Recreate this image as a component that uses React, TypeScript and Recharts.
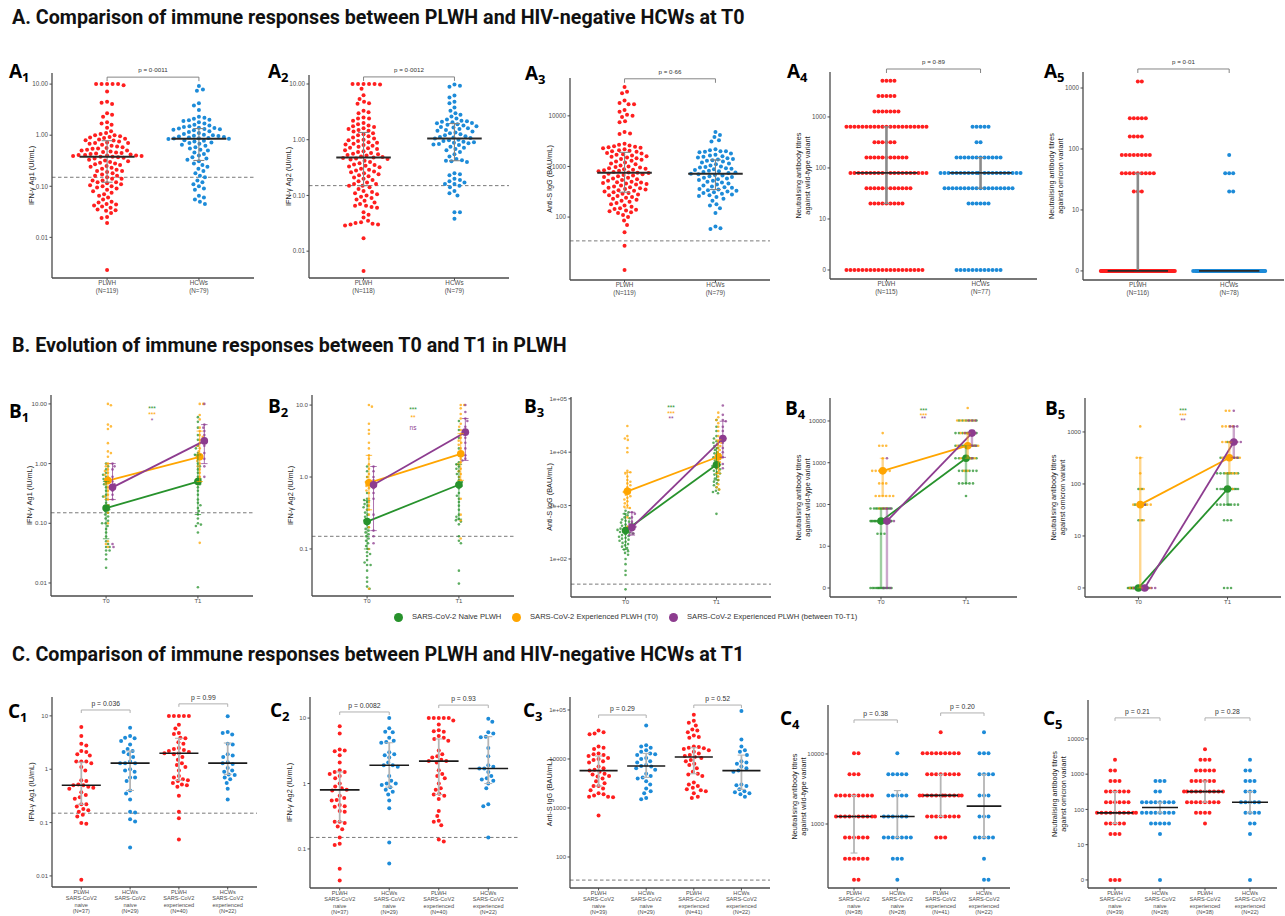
import React from "react";
import { ScatterChart, Scatter, XAxis, YAxis, ReferenceLine, ReferenceDot } from "recharts";

const RED = "#ff1f1f";
const BLUE = "#1d8bd8";
const GREEN = "#27922c";
const ORANGE = "#ffa500";
const PURPLE = "#8d3c8f";
const AXIS = "#4a4a4a";
const TXT = "#4d4d4d";

// ---------- A. T0, PLWH vs HCWs ----------
const a1Plwh = [10, 10, 10, 10, 10, 9.5, 7.2, 4.5, 4.3, 4.1, 2.7, 2.5, 2.3, 1.8, 1.7, 1.6, 1.4, 1.2, 1.1, 1.05, 1.0, 1.0, 0.95, 0.92, 0.9, 0.88, 0.85, 0.82, 0.8, 0.79,
  0.75, 0.72, 0.7, 0.7, 0.68, 0.65, 0.62, 0.6, 0.58, 0.56, 0.55, 0.54, 0.52, 0.5, 0.5, 0.48, 0.47, 0.46, 0.45, 0.44, 0.43, 0.42, 0.41, 0.41, 0.4, 0.4, 0.39, 0.39, 0.38, 0.38,
  0.37, 0.36, 0.35, 0.33, 0.32, 0.31, 0.3, 0.29, 0.28, 0.27, 0.26, 0.25, 0.24, 0.23, 0.22, 0.21, 0.2, 0.2, 0.19, 0.18, 0.17, 0.16, 0.16, 0.15, 0.14, 0.14, 0.13, 0.13, 0.12,
  0.12, 0.115, 0.11, 0.105, 0.1, 0.1, 0.095, 0.09, 0.085, 0.08, 0.075, 0.07, 0.065, 0.06, 0.055, 0.05, 0.048, 0.045, 0.044, 0.042, 0.04, 0.038, 0.035, 0.034, 0.033, 0.03, 0.025, 0.024, 0.019, 0.0023];
const a1Hcw = [9.2, 7.8, 7.4, 4.2, 3.8, 3.1, 2.3, 2.2, 2.1, 2.0, 1.95, 1.9, 1.8, 1.7, 1.6, 1.55, 1.5, 1.45, 1.4, 1.38,
  1.35, 1.32, 1.3, 1.28, 1.25, 1.2, 1.15, 1.1, 1.05, 1.02, 1.0, 0.98, 0.96, 0.94, 0.92, 0.9, 0.88, 0.87, 0.86, 0.85,
  0.84, 0.8, 0.78, 0.75, 0.72, 0.7, 0.68, 0.65, 0.62, 0.58, 0.55, 0.52, 0.5, 0.46, 0.43, 0.4, 0.37, 0.35, 0.33,
  0.31, 0.28, 0.26, 0.24, 0.22, 0.2, 0.18, 0.16, 0.15, 0.13, 0.12, 0.11, 0.1, 0.09, 0.085, 0.065, 0.06, 0.055, 0.05, 0.045];
const a1Stats = [[0.38, 0.12, 0.78], [0.85, 0.32, 1.35]];

const a2Plwh = [10, 10, 10, 10, 10, 9.8, 8.2, 6.3, 5.4, 4.8, 4.5, 4.4, 3.3, 3.1, 3.0, 2.5, 2.4, 2.4, 2.2, 2.0, 1.9, 1.8, 1.75, 1.7, 1.6, 1.55, 1.5, 1.45, 1.4,
  1.3, 1.25, 1.2, 1.15, 1.1, 1.05, 1.0, 0.98, 0.95, 0.9, 0.88, 0.85, 0.82, 0.8, 0.78, 0.75, 0.72, 0.7, 0.68, 0.65, 0.62, 0.6, 0.58, 0.56, 0.55, 0.53, 0.52, 0.5, 0.49, 0.48,
  0.47, 0.46, 0.45, 0.44, 0.42, 0.4, 0.38, 0.36, 0.35, 0.34, 0.33, 0.32, 0.3, 0.29, 0.28, 0.27, 0.26, 0.25, 0.24, 0.23, 0.22, 0.21, 0.2, 0.19, 0.18, 0.17, 0.16, 0.16, 0.15,
  0.15, 0.14, 0.13, 0.12, 0.115, 0.11, 0.105, 0.1, 0.095, 0.09, 0.085, 0.08, 0.075, 0.07, 0.065, 0.065, 0.062, 0.06, 0.05, 0.045, 0.04, 0.035, 0.033, 0.032, 0.031, 0.03, 0.03, 0.029, 0.017, 0.0044];
const a2Hcw = [9.8, 9.3, 8.9, 6.2, 5.7, 4.8, 4.5, 3.8, 3.3, 3.0, 2.8, 2.6, 2.4, 2.3, 2.2, 2.15, 2.1, 2.05, 2.0, 1.97,
  1.9, 1.85, 1.8, 1.75, 1.7, 1.65, 1.6, 1.55, 1.5, 1.45, 1.4, 1.35, 1.3, 1.25, 1.2, 1.15, 1.12, 1.1, 1.07, 1.05,
  1.0, 0.98, 0.95, 0.92, 0.9, 0.88, 0.86, 0.84, 0.82, 0.8, 0.75, 0.72, 0.68, 0.65, 0.6, 0.55, 0.5, 0.45, 0.43,
  0.42, 0.41, 0.4, 0.25, 0.24, 0.23, 0.2, 0.19, 0.18, 0.17, 0.16, 0.16, 0.15, 0.14, 0.12, 0.11, 0.1, 0.05, 0.05, 0.038];
const a2Stats = [[0.48, 0.15, 1.35], [1.05, 0.42, 1.95]];

const a3Plwh = [37000, 30000, 28000, 20000, 18000, 17000, 17000, 13000, 12000, 10500, 10000, 9500, 7800, 7500, 4800, 4500, 4400, 2800, 2700, 2600, 2500, 2450, 2400, 2350, 2300, 2200, 2100, 2050, 2000, 1950,
  1850, 1800, 1750, 1700, 1650, 1600, 1550, 1500, 1450, 1400, 1350, 1300, 1250, 1200, 1150, 1100, 1050, 1000, 980, 950, 920, 900, 880, 860, 840, 820, 800, 780, 760, 750,
  740, 720, 700, 680, 660, 640, 620, 600, 580, 560, 540, 520, 500, 490, 480, 470, 460, 450, 440, 420, 400, 390, 380, 370, 360, 350, 340, 330, 320,
  310, 300, 290, 280, 270, 260, 250, 240, 230, 220, 210, 200, 190, 180, 170, 160, 150, 145, 140, 135, 130, 125, 120, 110, 100, 85, 70, 50, 27, 9];
const a3Hcw = [4800, 4200, 3800, 3300, 3100, 2200, 2100, 2000, 2000, 1950, 1900, 1800, 1700, 1650, 1600, 1550, 1500, 1450, 1400, 1380,
  1330, 1300, 1250, 1200, 1150, 1100, 1050, 1000, 980, 950, 920, 900, 880, 850, 820, 800, 780, 760, 740, 720,
  700, 680, 660, 640, 620, 600, 580, 560, 540, 520, 500, 480, 460, 440, 420, 400, 390, 380, 360,
  350, 340, 330, 320, 310, 300, 290, 280, 270, 260, 250, 230, 210, 180, 170, 150, 120, 65, 60, 58];
const a3Stats = [[750, 310, 1900], [720, 350, 1350]];

// titre levels; a titre of 0 sits at 1 on the log axis (tick labelled "0")
const titreLevels = [0, 20, 40, 80, 160, 320, 640, 1280, 2560, 5120];
const titreLevelsWide = [0, 20, 40, 80, 160, 320, 640, 1280, 2560, 5120, 10240, 20480];
const titreLevelsHigh = [160, 320, 640, 1280, 2560, 5120, 10240, 20480];

const a4PlwhCounts = [20, 9, 12, 20, 11, 6, 21, 7, 5, 4];
const a4HcwCounts = [12, 6, 18, 22, 12, 2, 5, 0, 0, 0];
const a4Stats = [[80, 20, 640], [80, 40, 160]];
const a5PlwhCounts = [85, 3, 9, 8, 4, 5, 0, 2, 0, 0];
const a5HcwCounts = [72, 2, 3, 1, 0, 0, 0, 0, 0, 0];
const a5Stats = [[1, 1, 40], [1, 1, 1]];

// ---------- B. T0 -> T1 in PLWH (naive / experienced T0 / experienced between) ----------
const b1T0Naive = [1.0, 0.9, 0.8, 0.7, 0.65, 0.6, 0.55, 0.5, 0.45, 0.4, 0.35, 0.3, 0.28, 0.25, 0.22, 0.2, 0.18, 0.17, 0.16, 0.15, 0.14, 0.13, 0.12, 0.11, 0.1, 0.1, 0.09, 0.08, 0.07, 0.06, 0.05, 0.045, 0.04, 0.04, 0.035, 0.035, 0.03, 0.025, 0.018];
const b1T0Exp = [10, 9.5, 4.5, 4.2, 3.8, 2.2, 1.6, 1.5, 1.3, 1.0, 0.9, 0.8, 0.75, 0.7, 0.65, 0.6, 0.55, 0.5, 0.45, 0.4, 0.35, 0.3, 0.28, 0.25, 0.2, 0.15, 0.1, 0.05, 0.045, 0.04];
const b1T0Between = [1.0, 0.9, 0.8, 0.6, 0.5, 0.45, 0.4, 0.35, 0.3, 0.25, 0.045, 0.04];
const b1T1Naive = [6, 5, 4, 3, 2.5, 2, 1.8, 1.5, 1.4, 1.2, 1.0, 0.9, 0.8, 0.7, 0.6, 0.55, 0.5, 0.45, 0.4, 0.35, 0.3, 0.25, 0.22, 0.2, 0.18, 0.16, 0.14, 0.12, 0.1, 0.095, 0.09, 0.07, 0.0085];
const b1T1Exp = [10, 10, 6.5, 5.5, 4, 3.5, 3, 2.8, 2.5, 2.2, 2, 1.8, 1.6, 1.4, 1.3, 1.2, 1.1, 1.0, 0.9, 0.8, 0.7, 0.6, 0.55, 0.5, 0.45, 0.047];
const b1T1Between = [10, 4.5, 4, 3.5, 3, 2.6, 2.4, 2, 1.5, 1.2, 0.9, 0.6];
// [T0, T1] centre, lower, upper for naive / exp / between
const b1Mid = [[0.18, 0.5], [0.52, 1.3], [0.4, 2.4]];
const b1Lo = [[0.055, 0.14], [0.25, 0.5], [0.25, 1.0]];
const b1Hi = [[0.5, 1.4], [1.0, 3.5], [1.0, 4.5]];

const b2T0Naive = [1.4, 1.2, 1.0, 0.8, 0.6, 0.5, 0.48, 0.45, 0.42, 0.4, 0.38, 0.35, 0.32, 0.3, 0.28, 0.26, 0.25, 0.24, 0.22, 0.2, 0.19, 0.18, 0.17, 0.16, 0.15, 0.14, 0.13, 0.12, 0.11, 0.1, 0.09, 0.085, 0.08, 0.07, 0.065, 0.06, 0.06, 0.05, 0.04, 0.035, 0.03, 0.028];
const b2T0Exp = [10, 9.5, 5.5, 4.5, 4, 3, 2.5, 2, 1.8, 1.5, 1.3, 1.1, 1.0, 0.9, 0.85, 0.8, 0.75, 0.7, 0.65, 0.6, 0.5, 0.45, 0.4, 0.35, 0.3, 0.25, 0.2, 0.1, 0.028];
const b2T0Between = [1.4, 1.2, 1.0, 0.9, 0.8, 0.7, 0.6, 0.5, 0.3, 0.18, 0.15, 0.12];
const b2T1Naive = [6, 4.5, 3.5, 2.5, 2, 1.6, 1.5, 1.4, 1.3, 1.2, 1.1, 1.0, 0.9, 0.85, 0.8, 0.75, 0.7, 0.6, 0.55, 0.5, 0.45, 0.4, 0.35, 0.3, 0.28, 0.26, 0.25, 0.24, 0.22, 0.15, 0.13, 0.12, 0.05, 0.033];
const b2T1Exp = [10, 10, 9, 7.5, 6.5, 5.5, 5, 4.5, 4, 3.5, 3.2, 3, 2.8, 2.5, 2.2, 2, 1.8, 1.6, 1.5, 1.3, 1.2, 1.1, 1.0, 0.9, 0.8, 0.5, 0.3, 0.25, 0.14];
const b2T1Between = [10, 8, 6.5, 6, 5, 4.5, 4.2, 3.5, 3, 2.5, 2, 1.8, 1.7];
const b2Mid = [[0.24, 0.78], [0.83, 2.1], [0.78, 4.2]];
const b2Lo = [[0.1, 0.26], [0.35, 0.9], [0.18, 1.7]];
const b2Hi = [[0.47, 1.5], [2.0, 4.0], [1.4, 6.5]];

const b3T0Naive = [800, 750, 700, 650, 600, 580, 550, 520, 500, 480, 460, 440, 420, 400, 380, 370, 360, 350, 340, 330, 320, 310, 300, 290, 280, 270, 260, 250, 240, 230, 220, 210, 200, 190, 180, 170, 160, 150, 140, 130, 120, 100, 80, 60, 50, 27];
const b3T0Exp = [31000, 20000, 18000, 17000, 12000, 10000, 4500, 4200, 4000, 3500, 3000, 2800, 2600, 2400, 2200, 2000, 1900, 1800, 1700, 1600, 1500, 1400, 1300, 1200, 1100, 1000, 950, 900, 600, 400];
const b3T0Between = [750, 700, 600, 500, 450, 420, 400, 380, 350, 320, 300, 280];
const b3T1Naive = [40000, 30000, 25000, 20000, 18000, 16000, 15000, 14000, 13000, 12000, 11000, 10000, 9500, 9000, 8500, 8000, 7500, 7000, 6500, 6000, 5800, 5500, 5000, 4800, 4500, 4200, 4000, 3800, 3500, 3200, 3000, 2800, 2600, 2400, 2200, 2000, 1900, 1800, 1700, 700];
const b3T1Exp = [55000, 45000, 40000, 35000, 30000, 25000, 20000, 18000, 16000, 15000, 14000, 13000, 12000, 11000, 10000, 9000, 8200, 7500, 7000, 6500, 6000, 5500, 5000, 4500, 4000, 3500, 3000, 2500, 2200, 2000];
const b3T1Between = [75000, 50000, 40000, 38000, 30000, 25000, 20000, 18000, 15000, 12000, 10000, 8000, 6000, 5000];
const b3Mid = [[340, 5800], [1850, 8200], [390, 18000]];
const b3Lo = [[150, 3000], [900, 4000], [280, 8000]];
const b3Hi = [[700, 12000], [4200, 17000], [750, 38000]];

const b4T0NaiveCounts = [15, 3, 20, 12, 0, 0, 0, 0, 0, 0, 0, 0];
const b4T0ExpCounts = [0, 0, 2, 3, 6, 3, 6, 1, 3, 1, 0, 0];
const b4T0BetweenCounts = [3, 0, 4, 3, 0, 0, 0, 1, 0, 0, 0, 0];
const b4T1NaiveCounts = [0, 0, 0, 0, 1, 5, 6, 10, 12, 8, 6, 0];
const b4T1ExpCounts = [0, 0, 0, 0, 0, 0, 2, 5, 8, 5, 6, 1];
const b4T1BetweenCounts = [0, 0, 0, 0, 0, 0, 0, 1, 3, 4, 3, 0];
const b4Mid = [[40, 1280], [640, 2560], [40, 5120]];
const b4Lo = [[1, 320], [160, 1280], [1, 2560]];
const b4Hi = [[80, 2560], [1280, 5120], [80, 6000]];

const b5T0NaiveCounts = [40, 2, 4, 2, 0, 0, 0, 0, 0, 0];
const b5T0ExpCounts = [10, 2, 6, 2, 1, 2, 0, 1, 0, 0];
const b5T0BetweenCounts = [8, 0, 1, 0, 0, 0, 0, 0, 0, 0];
const b5T1NaiveCounts = [3, 3, 8, 12, 8, 6, 2, 0, 0, 0];
const b5T1ExpCounts = [0, 0, 0, 2, 4, 6, 5, 4, 2, 1];
const b5T1BetweenCounts = [0, 0, 0, 0, 0, 2, 4, 3, 1, 0];
const b5Mid = [[1, 80], [40, 320], [1, 640]];
const b5Lo = [[1, 40], [1, 160], [1, 320]];
const b5Hi = [[1, 160], [320, 640], [1, 1280]];

// ---------- C. T1, PLWH vs HCWs by SARS-CoV-2 status ----------
const c1PlwhNaive = [6.2, 4.2, 3.0, 2.8, 2.2, 2.1, 1.9, 1.8, 1.4, 1.4, 1.4, 1.3, 1.1, 0.95, 0.62, 0.6, 0.52, 0.5, 0.5, 0.47, 0.45, 0.43, 0.37, 0.33, 0.3, 0.28, 0.22, 0.22, 0.2, 0.18, 0.17, 0.16, 0.14, 0.13, 0.098, 0.095, 0.0085];
const c1HcwNaive = [6.0, 4.2, 3.9, 3.8, 3.4, 2.9, 2.4, 2.2, 2.1, 1.9, 1.7, 1.4, 1.3, 1.3, 1.3, 1.0, 0.95, 0.9, 0.7, 0.7, 0.6, 0.4, 0.35, 0.27, 0.16, 0.155, 0.115, 0.105, 0.034];
const c1PlwhExp = [10, 10, 10, 10, 10, 6.8, 5.8, 4.8, 4.6, 3.9, 3.8, 3.2, 3.0, 2.5, 2.4, 2.3, 2.2, 2.1, 2.0, 2.0, 1.9, 1.7, 1.5, 1.3, 1.2, 1.1, 0.95, 0.75, 0.7, 0.65, 0.62, 0.6, 0.55, 0.52, 0.5, 0.47, 0.32, 0.16, 0.12, 0.048];
const c1HcwExp = [9.8, 5.0, 4.8, 4.5, 3.0, 2.9, 1.9, 1.8, 1.7, 1.35, 1.3, 1.25, 1.05, 0.95, 0.9, 0.8, 0.78, 0.7, 0.65, 0.55, 0.43, 0.27];
const c1Stats = [[0.5, 0.22, 1.35], [1.3, 0.4, 2.2], [2.0, 0.62, 3.8], [1.3, 0.8, 3.1]];

const c2PlwhNaive = [7.5, 5.8, 3.3, 3.2, 3.1, 2.7, 2.1, 1.6, 1.5, 1.5, 1.4, 1.3, 1.2, 1.0, 0.9, 0.85, 0.8, 0.78, 0.65, 0.6, 0.56, 0.55, 0.47, 0.45, 0.44, 0.38, 0.37, 0.26, 0.26, 0.25, 0.22, 0.2, 0.15, 0.12, 0.115, 0.05, 0.033];
const c2HcwNaive = [10, 7.0, 6.2, 6.1, 5.0, 4.5, 4.3, 4.2, 3.0, 2.8, 2.7, 2.5, 2.1, 1.9, 1.9, 1.8, 1.3, 1.1, 1.0, 1.0, 0.95, 0.88, 0.8, 0.75, 0.68, 0.55, 0.42, 0.125, 0.06];
const c2PlwhExp = [10, 10, 10, 10, 10, 9.2, 8.0, 6.5, 6.3, 6.2, 5.3, 5.0, 4.8, 4.5, 3.2, 2.8, 2.6, 2.5, 2.3, 2.2, 2.2, 2.1, 1.6, 1.4, 1.3, 1.2, 1.0, 0.85, 0.8, 0.7, 0.68, 0.65, 0.58, 0.38, 0.32, 0.27, 0.26, 0.23, 0.14, 0.13];
const c2HcwExp = [9.8, 8.8, 6.1, 5.8, 5.2, 5.1, 3.5, 2.6, 1.9, 1.8, 1.7, 1.7, 1.5, 1.3, 1.2, 1.15, 1.1, 1.0, 0.85, 0.48, 0.45, 0.15];
const c2Stats = [[0.8, 0.26, 1.5], [1.9, 0.88, 4.2], [2.2, 0.68, 4.8], [1.7, 1.0, 5.2]];

const c3PlwhNaive = [38000, 35000, 33000, 32000, 18000, 17000, 16000, 13000, 12500, 12000, 11500, 10500, 10000, 9500, 9000, 8500, 7000, 6500, 6000, 5800, 5500, 5000, 4800, 4500, 4400, 4000, 3500, 3200, 2800, 2800, 2500, 2300, 2000, 1900, 1800, 1700, 1700, 1650, 700];
const c3HcwNaive = [48000, 19000, 18000, 17000, 15000, 14000, 13000, 12500, 12000, 10500, 10000, 9000, 8500, 7500, 7200, 7000, 6500, 6000, 5000, 4500, 4200, 4000, 3500, 3000, 2500, 2200, 2000, 1600, 1500];
const c3PlwhExp = [80000, 60000, 55000, 48000, 40000, 38000, 35000, 30000, 28000, 27000, 18000, 17500, 17000, 16500, 16000, 15000, 14000, 13000, 12000, 11500, 11000, 10500, 9500, 9000, 8000, 7500, 6500, 5500, 5000, 4800, 4500, 3300, 3000, 2800, 2600, 2400, 2300, 2200, 2000, 1700, 1600];
const c3HcwExp = [95000, 25000, 18000, 15000, 14000, 12000, 9000, 8500, 8000, 7000, 6500, 5800, 5500, 3000, 2900, 2800, 2400, 2200, 2100, 2000, 1900, 1700];
const c3Stats = [[5800, 2800, 11500], [7200, 4200, 13000], [11000, 5000, 17000], [5800, 2400, 12000]];

const c4PlwhNaiveCounts = [2, 6, 6, 10, 9, 3, 2, 0];
const c4HcwNaiveCounts = [1, 3, 7, 6, 5, 5, 1, 0];
const c4PlwhExpCounts = [0, 0, 3, 8, 12, 8, 9, 1];
const c4HcwExpCounts = [2, 1, 5, 3, 3, 4, 3, 1];
const c4Stats = [[1280, 385, 2560], [1280, 640, 3000], [2560, 1280, 5120], [1800, 640, 5120]];

const c5PlwhNaiveCounts = [3, 3, 5, 10, 6, 6, 3, 2, 1, 0];
const c5HcwNaiveCounts = [1, 1, 5, 8, 8, 2, 3, 0, 0, 0];
const c5PlwhExpCounts = [0, 0, 1, 4, 8, 10, 6, 5, 3, 1];
const c5HcwExpCounts = [1, 1, 2, 4, 5, 3, 3, 2, 1, 0];
const c5Stats = [[80, 40, 320], [113, 80, 160], [320, 160, 640], [160, 80, 320]];

const fromCounts = (levels: number[], counts: number[]) =>
  levels.flatMap((v, i) => Array.from({ length: counts[i] || 0 }, () => (v === 0 ? 1 : v)));

const cLabels = (n: number[]) => [
  ["PLWH", "SARS-CoV2", "naive", `(N=${n[0]})`],
  ["HCWs", "SARS-CoV2", "naive", `(N=${n[1]})`],
  ["PLWH", "SARS-CoV2", "experienced", `(N=${n[2]})`],
  ["HCWs", "SARS-CoV2", "experienced", `(N=${n[3]})`],
];
const aLabels = (n1: number, n2: number) => [["PLWH", `(N=${n1})`], ["HCWs", `(N=${n2})`]];

// beeswarm: offsets (px) from the data's pixel heights
function swarm(ys: number[], d: number, maxW: number): number[] {
  const order = ys.map((_, i) => i).sort((a, b) => ys[a] - ys[b]);
  const px: number[] = [];
  const py: number[] = [];
  const out = ys.map(() => 0);
  order.forEach((i, n) => {
    const y = ys[i];
    const sign = n % 2 === 0 ? 1 : -1;
    let best = 0;
    let bestGap = -1;
    for (let k = 0; k <= maxW * 4; k++) {
      const off = sign * (k % 2 === 0 ? 1 : -1) * Math.ceil(k / 2) * 0.5;
      let gap = Infinity;
      for (let j = px.length - 1; j >= 0; j--) {
        const dy = y - py[j];
        if (dy >= d) break;
        const dist = Math.hypot(off - px[j], dy);
        if (dist < gap) gap = dist;
      }
      if (gap >= d) { best = off; bestGap = gap; break; }
      if (gap > bestGap + 0.01) { bestGap = gap; best = off; }
    }
    px.push(best);
    py.push(y);
    out[i] = best;
  });
  return out;
}

type Grp = { x: number; vals: number[]; color: string; r: number; op?: number };
type Trend = { color: string; dx: number; mid: number[]; lo: number[]; hi: number[] };
type Cfg = {
  L: number; T: number; W: number; H: number; n: number;
  xLab: string[][]; xFont: number; xStep: number;
  dom: [number, number]; ticks: number[]; tickLab: string[]; tickFont: number;
  title: string[]; titleOff: number; titleFont: number;
  thr?: number;
  groups: Grp[]; d: number; maxW: number;
  stats?: number[][]; statKind?: "A" | "A2" | "C";
  brackets?: { a: number; b: number; y: number; text: string }[]; brKind?: "A" | "C";
  trends?: Trend[]; thickErr?: boolean;
  stars?: { text: string; y: number; color: string }[];
};

const STAT = {
  A: { half: 0.3, cap: 0.06, med: "#2a2a2a", medW: 2, err: "#858585", errW: 1.1 },
  A2: { half: 0.33, cap: 0.04, med: "#2a2a2a", medW: 1.8, err: "#8a8a8a", errW: 2.6 },
  C: { half: 0.4, cap: 0.08, med: "#1a1a1a", medW: 1.6, err: "#b5b5b5", errW: 1.8 },
};
const BR = {
  A: { col: "#777", w: 0.9, tick: 4, up: 7, size: 6.2, txt: "#333" },
  C: { col: "#b0b0b0", w: 1, tick: 3, up: 6, size: 6.8, txt: "#333" },
};

const MT = 30, ML = 80, MB = 40, MR = 6;

function Panel({ c }: { c: Cfg }) {
  const xMax = c.n + 0.6;
  const ppu = c.W / (xMax - 0.4);
  const lg0 = Math.log10(c.dom[0]);
  const lg1 = Math.log10(c.dom[1]);
  const ppd = c.H / (lg1 - lg0);
  const pxY = (v: number) => (lg1 - Math.log10(v)) * ppd;
  const up = (v: number, px: number) => v * Math.pow(10, px / ppd);
  const xs = Array.from({ length: c.n }, (_, i) => i + 1);

  const series = c.groups.map((g) => {
    const off = swarm(g.vals.map(pxY), c.d, c.maxW);
    return { g, data: g.vals.map((v, i) => ({ x: g.x + off[i] / ppu, y: v })) };
  });

  type Seg = { a: number[]; b: number[]; col: string; w: number; op?: number };
  const segs: Seg[] = [];
  const notes: { x: number; y: number; text: string; col: string; size: number }[] = [];

  if (c.stats && c.statKind) {
    const st = STAT[c.statKind];
    c.stats.forEach(([m, lo, hi], i) => {
      const x = i + 1;
      if (hi > lo) {
        segs.push({ a: [x, lo], b: [x, hi], col: st.err, w: st.errW });
        segs.push({ a: [x - st.cap, lo], b: [x + st.cap, lo], col: st.err, w: 1.1 });
        segs.push({ a: [x - st.cap, hi], b: [x + st.cap, hi], col: st.err, w: 1.1 });
      }
      segs.push({ a: [x - st.half, m], b: [x + st.half, m], col: st.med, w: st.medW });
    });
  }
  if (c.trends) {
    c.trends.forEach((t) => {
      [0, 1].forEach((k) => {
        const x = k + 1 + t.dx;
        if (t.hi[k] > t.lo[k]) {
          const w = c.thickErr ? 2.4 : 0.9;
          const op = c.thickErr ? 0.45 : 0.8;
          segs.push({ a: [x, t.lo[k]], b: [x, t.hi[k]], col: t.color, w, op });
          segs.push({ a: [x - 0.035, t.lo[k]], b: [x + 0.035, t.lo[k]], col: t.color, w: 0.9, op });
          segs.push({ a: [x - 0.035, t.hi[k]], b: [x + 0.035, t.hi[k]], col: t.color, w: 0.9, op });
        }
      });
    });
  }
  if (c.brackets && c.brKind) {
    const bk = BR[c.brKind];
    c.brackets.forEach((br) => {
      const y2 = up(br.y, -bk.tick);
      segs.push({ a: [br.a, br.y], b: [br.b, br.y], col: bk.col, w: bk.w });
      segs.push({ a: [br.a, br.y], b: [br.a, y2], col: bk.col, w: bk.w });
      segs.push({ a: [br.b, br.y], b: [br.b, y2], col: bk.col, w: bk.w });
      notes.push({ x: (br.a + br.b) / 2, y: up(br.y, bk.up), text: br.text, col: bk.txt, size: bk.size });
    });
  }
  (c.stars || []).forEach((s) => notes.push({ x: 1.5, y: s.y, text: s.text, col: s.color, size: 6.5 }));

  const XTick = (p: any) => {
    const lines = c.xLab[Math.round(p.payload.value) - 1] || [];
    return (
      <text x={p.x} y={p.y} textAnchor="middle" fontSize={c.xFont} fill={TXT}>
        {lines.map((t, i) => (
          <tspan key={i} x={p.x} dy={i === 0 ? "0.75em" : c.xStep}>{t}</tspan>
        ))}
      </text>
    );
  };
  const YTitle = () => {
    const cx = ML - c.titleOff;
    const cy = MT + c.H / 2;
    const lh = c.titleFont * 1.15;
    const k = c.title.length;
    return (
      <text transform={`rotate(-90 ${cx} ${cy})`} textAnchor="middle" fontSize={c.titleFont} fill="#222">
        {c.title.map((t, i) => (
          <tspan key={i} x={cx} y={cy + (i - (k - 1) / 2) * lh} dy="0.35em">{t}</tspan>
        ))}
      </text>
    );
  };

  return (
    <div style={{ position: "absolute", left: c.L - ML, top: c.T - MT }}>
      <ScatterChart width={ML + c.W + MR} height={MT + c.H + MB} margin={{ top: MT, right: MR, bottom: 0, left: 0 }}>
        <XAxis type="number" dataKey="x" domain={[0.4, xMax]} ticks={xs} allowDataOverflow height={MB}
          tick={XTick} tickSize={2.5} tickMargin={0} axisLine={{ stroke: AXIS, strokeWidth: 1.3 }} tickLine={{ stroke: AXIS }} />
        <YAxis type="number" dataKey="y" scale="log" domain={c.dom} allowDataOverflow ticks={c.ticks} width={ML}
          tickFormatter={(v: number) => c.tickLab[c.ticks.indexOf(v)] ?? ""}
          tick={{ fontSize: c.tickFont, fill: TXT }} tickSize={2.5} tickMargin={1.5}
          axisLine={{ stroke: AXIS, strokeWidth: 1.3 }} tickLine={{ stroke: AXIS }} label={YTitle} />
        {c.thr !== undefined && (
          <ReferenceLine y={c.thr} stroke="#7a7a7a" strokeWidth={1} strokeDasharray="3.5 2.5" ifOverflow="visible" />
        )}
        {series.map((s, i) => (
          <Scatter key={i} data={s.data} isAnimationActive={false}
            shape={(p: any) => <circle cx={p.cx} cy={p.cy} r={s.g.r} fill={s.g.color} fillOpacity={s.g.op ?? 1} />} />
        ))}
        {segs.map((s, i) => (
          <ReferenceLine key={"s" + i} segment={[{ x: s.a[0], y: s.a[1] }, { x: s.b[0], y: s.b[1] }]}
            stroke={s.col} strokeWidth={s.w} strokeOpacity={s.op ?? 1} ifOverflow="visible" zIndex={700} />
        ))}
        {(c.trends || []).map((t, i) => (
          <Scatter key={"t" + i} data={[{ x: 1 + t.dx, y: t.mid[0] }, { x: 2 + t.dx, y: t.mid[1] }]}
            isAnimationActive={false} line={{ stroke: t.color, strokeWidth: 1.8 }}
            shape={(p: any) => <circle cx={p.cx} cy={p.cy} r={3.8} fill={t.color} />} />
        ))}
        {notes.map((n, i) => (
          <ReferenceDot key={"n" + i} x={n.x} y={n.y} r={0} fill="none" stroke="none" ifOverflow="visible"
            label={{ value: n.text, position: "center", fill: n.col, fontSize: n.size }} />
        ))}
      </ScatterChart>
    </div>
  );
}

const aBase = { n: 2, xFont: 6.3, xStep: 7.5, tickFont: 6.3, titleFont: 7.3, d: 5.2, maxW: 42, statKind: "A" as const, brKind: "A" as const };
const bBase = { n: 2, xLab: [["T0"], ["T1"]], xFont: 6, xStep: 7, tickFont: 6.2, titleFont: 7.3, d: 3.2, maxW: 11 };
const cBase = { n: 4, xFont: 5.6, xStep: 6.5, tickFont: 6, titleFont: 7.3, d: 5, maxW: 21, statKind: "C" as const, brKind: "C" as const };
const logTicks4 = [0.01, 0.1, 1, 10];
const neutWT = ["Neutralising antibody titres", "against wild-type variant"];
const neutOm = ["Neutralising antibody titres", "against omicron variant"];

const bGroups = (t0: number[][], t1: number[][]) => {
  const cols = [GREEN, ORANGE, PURPLE];
  const dx = [0, 0.02, 0.07];
  return [0, 1, 2].flatMap((k) => [
    { x: 1 + dx[k], vals: t0[k], color: cols[k], r: 1.3, op: 0.75 },
    { x: 2 + dx[k], vals: t1[k], color: cols[k], r: 1.3, op: 0.75 },
  ]);
};
const bTrends = (mid: number[][], lo: number[][], hi: number[][]): Trend[] => {
  const cols = [GREEN, ORANGE, PURPLE];
  const dx = [0, 0.02, 0.07];
  return [0, 1, 2].map((k) => ({ color: cols[k], dx: dx[k], mid: mid[k], lo: lo[k], hi: hi[k] }));
};

const panels: Cfg[] = [
  { ...aBase, L: 52, T: 73, W: 202, H: 205, dom: [0.0016, 16.5], ticks: logTicks4, tickLab: ["0.01", "0.10", "1.00", "10.00"],
    title: ["IFN-γ Ag1  (UI/mL)"], titleOff: 21, xLab: aLabels(119, 79), thr: 0.15,
    groups: [{ x: 1, vals: a1Plwh, color: RED, r: 2 }, { x: 2, vals: a1Hcw, color: BLUE, r: 2 }],
    stats: a1Stats, brackets: [{ a: 1, b: 2, y: 13.7, text: "p = 0·0011" }] },
  { ...aBase, L: 309, T: 75, W: 200, H: 203, dom: [0.0033, 14.5], ticks: logTicks4, tickLab: ["0.01", "0.10", "1.00", "10.00"],
    title: ["IFN-γ Ag2 (UI/mL)"], titleOff: 21, xLab: aLabels(118, 79), thr: 0.15,
    groups: [{ x: 1, vals: a2Plwh, color: RED, r: 2 }, { x: 2, vals: a2Hcw, color: BLUE, r: 2 }],
    stats: a2Stats, brackets: [{ a: 1, b: 2, y: 13.4, text: "p = 0·0012" }] },
  { ...aBase, L: 570, T: 78, W: 200, H: 202, dom: [5.7, 56000], ticks: [100, 1000, 10000], tickLab: ["100", "1000", "10000"],
    title: ["Anti-S IgG (BAU/mL)"], titleOff: 21, xLab: aLabels(119, 79), thr: 33.8,
    groups: [{ x: 1, vals: a3Plwh, color: RED, r: 2 }, { x: 2, vals: a3Hcw, color: BLUE, r: 2 }],
    stats: a3Stats, brackets: [{ a: 1, b: 2, y: 54000, text: "p = 0·66" }] },
  { ...aBase, L: 830, T: 72, W: 207, H: 207, dom: [0.666, 7600], ticks: [1, 10, 100, 1000], tickLab: ["0", "10", "100", "1000"],
    title: neutWT, titleOff: 27, xLab: aLabels(115, 77), statKind: "A2", d: 4, maxW: 40,
    groups: [{ x: 1, vals: fromCounts(titreLevels, a4PlwhCounts), color: RED, r: 2 }, { x: 2, vals: fromCounts(titreLevels, a4HcwCounts), color: BLUE, r: 2 }],
    stats: a4Stats, brackets: [{ a: 1, b: 2, y: 8700, text: "p = 0·89" }] },
  { ...aBase, L: 1083, T: 72, W: 201, H: 208, dom: [0.71, 1830], ticks: [1, 10, 100, 1000], tickLab: ["0", "10", "100", "1000"],
    title: neutOm, titleOff: 27, xLab: aLabels(116, 78), statKind: "A2", d: 4, maxW: 37,
    groups: [{ x: 1, vals: fromCounts(titreLevels, a5PlwhCounts), color: RED, r: 2 }, { x: 2, vals: fromCounts(titreLevels, a5HcwCounts), color: BLUE, r: 2 }],
    stats: a5Stats, brackets: [{ a: 1, b: 2, y: 2050, text: "p = 0·01" }] },

  { ...bBase, L: 51, T: 395, W: 202, H: 201, dom: [0.00605, 14.1], ticks: logTicks4, tickLab: ["0.01", "0.10", "1.00", "10.00"],
    title: ["IFN-γ Ag1 (IU/mL)"], titleOff: 22, thr: 0.15,
    groups: bGroups([b1T0Naive, b1T0Exp, b1T0Between], [b1T1Naive, b1T1Exp, b1T1Between]), trends: bTrends(b1Mid, b1Lo, b1Hi),
    stars: [{ text: "***", y: 8.2, color: GREEN }, { text: "***", y: 6.5, color: ORANGE }, { text: "*", y: 5.2, color: PURPLE }] },
  { ...bBase, L: 312, T: 395, W: 202, H: 201, dom: [0.0222, 13.8], ticks: [0.1, 1, 10], tickLab: ["0.1", "1.0", "10.0"],
    title: ["IFN-γ Ag2 (IU/mL)"], titleOff: 22, thr: 0.15,
    groups: bGroups([b2T0Naive, b2T0Exp, b2T0Between], [b2T1Naive, b2T1Exp, b2T1Between]), trends: bTrends(b2Mid, b2Lo, b2Hi),
    stars: [{ text: "***", y: 8.5, color: GREEN }, { text: "**", y: 6.6, color: ORANGE }, { text: "ns", y: 4.9, color: PURPLE }] },
  { ...bBase, L: 571, T: 397, W: 200, H: 200, dom: [19.4, 108000], ticks: [100, 1000, 10000, 100000], tickLab: ["1e+02", "1e+03", "1e+04", "1e+05"],
    title: ["Anti-S IgG (BAU/mL)"], titleOff: 22, thr: 33.8,
    groups: bGroups([b3T0Naive, b3T0Exp, b3T0Between], [b3T1Naive, b3T1Exp, b3T1Between]), trends: bTrends(b3Mid, b3Lo, b3Hi),
    stars: [{ text: "***", y: 68000, color: GREEN }, { text: "***", y: 52000, color: ORANGE }, { text: "**", y: 42000, color: PURPLE }] },
  { ...bBase, L: 830, T: 398, W: 187, H: 199, dom: [0.609, 35500], ticks: [1, 10, 100, 1000, 10000], tickLab: ["0", "10", "100", "1000", "10000"],
    title: neutWT, titleOff: 27, thickErr: true,
    groups: bGroups(
      [fromCounts(titreLevelsWide, b4T0NaiveCounts), fromCounts(titreLevelsWide, b4T0ExpCounts), fromCounts(titreLevelsWide, b4T0BetweenCounts)],
      [fromCounts(titreLevelsWide, b4T1NaiveCounts), fromCounts(titreLevelsWide, b4T1ExpCounts), fromCounts(titreLevelsWide, b4T1BetweenCounts)]),
    trends: bTrends(b4Mid, b4Lo, b4Hi),
    stars: [{ text: "***", y: 17300, color: GREEN }, { text: "***", y: 13600, color: ORANGE }, { text: "**", y: 11200, color: PURPLE }] },
  { ...bBase, L: 1085, T: 398, W: 196, H: 199, dom: [0.67, 4500], ticks: [1, 10, 100, 1000], tickLab: ["0", "10", "100", "1000"],
    title: neutOm, titleOff: 27, thickErr: true,
    groups: bGroups(
      [fromCounts(titreLevels, b5T0NaiveCounts), fromCounts(titreLevels, b5T0ExpCounts), fromCounts(titreLevels, b5T0BetweenCounts)],
      [fromCounts(titreLevels, b5T1NaiveCounts), fromCounts(titreLevels, b5T1ExpCounts), fromCounts(titreLevels, b5T1BetweenCounts)]),
    trends: bTrends(b5Mid, b5Lo, b5Hi),
    stars: [{ text: "***", y: 2540, color: GREEN }, { text: "***", y: 2030, color: ORANGE }, { text: "**", y: 1630, color: PURPLE }] },

  { ...cBase, L: 52, T: 697, W: 205, H: 190, dom: [0.0062, 22.6], ticks: logTicks4, tickLab: ["0.01", "0.1", "1", "10"],
    title: ["IFN-γ Ag1 (IU/mL)"], titleOff: 21, xLab: cLabels([37, 29, 40, 22]), thr: 0.15,
    groups: [{ x: 1, vals: c1PlwhNaive, color: RED, r: 2 }, { x: 2, vals: c1HcwNaive, color: BLUE, r: 2 }, { x: 3, vals: c1PlwhExp, color: RED, r: 2 }, { x: 4, vals: c1HcwExp, color: BLUE, r: 2 }],
    stats: c1Stats, brackets: [{ a: 1, b: 2, y: 12.9, text: "p = 0.036" }, { a: 3, b: 4, y: 16.8, text: "p = 0.99" }] },
  { ...cBase, L: 310, T: 697, W: 208, H: 191, dom: [0.0253, 21], ticks: [0.1, 1, 10], tickLab: ["0.1", "1", "10"],
    title: ["IFN-γ Ag2 (IU/mL)"], titleOff: 21, xLab: cLabels([37, 29, 40, 22]), thr: 0.15,
    groups: [{ x: 1, vals: c2PlwhNaive, color: RED, r: 2 }, { x: 2, vals: c2HcwNaive, color: BLUE, r: 2 }, { x: 3, vals: c2PlwhExp, color: RED, r: 2 }, { x: 4, vals: c2HcwExp, color: BLUE, r: 2 }],
    stats: c2Stats, brackets: [{ a: 1, b: 2, y: 12.4, text: "p = 0.0082" }, { a: 3, b: 4, y: 15.8, text: "p = 0.93" }] },
  { ...cBase, L: 570, T: 697, W: 200, H: 191, dom: [23.3, 184000], ticks: [100, 1000, 10000, 100000], tickLab: ["100", "1000", "10000", "1e+05"],
    title: ["Anti-S IgG (BAU/mL)"], titleOff: 21, xLab: cLabels([39, 29, 41, 22]), thr: 33.8,
    groups: [{ x: 1, vals: c3PlwhNaive, color: RED, r: 2 }, { x: 2, vals: c3HcwNaive, color: BLUE, r: 2 }, { x: 3, vals: c3PlwhExp, color: RED, r: 2 }, { x: 4, vals: c3HcwExp, color: BLUE, r: 2 }],
    stats: c3Stats, brackets: [{ a: 1, b: 2, y: 79000, text: "p = 0.29" }, { a: 3, b: 4, y: 126000, text: "p = 0.52" }] },
  { ...cBase, L: 828, T: 705, W: 182, H: 183, dom: [122, 50000], ticks: [1000, 10000], tickLab: ["1000", "10000"],
    title: neutWT, titleOff: 29, xLab: cLabels([38, 28, 41, 22]), d: 4.4,
    groups: [{ x: 1, vals: fromCounts(titreLevelsHigh, c4PlwhNaiveCounts), color: RED, r: 2 }, { x: 2, vals: fromCounts(titreLevelsHigh, c4HcwNaiveCounts), color: BLUE, r: 2 },
      { x: 3, vals: fromCounts(titreLevelsHigh, c4PlwhExpCounts), color: RED, r: 2 }, { x: 4, vals: fromCounts(titreLevelsHigh, c4HcwExpCounts), color: BLUE, r: 2 }],
    stats: c4Stats, brackets: [{ a: 1, b: 2, y: 30600, text: "p = 0.38" }, { a: 3, b: 4, y: 38500, text: "p = 0.20" }] },
  { ...cBase, L: 1088, T: 700, W: 189, H: 188, dom: [0.59, 127000], ticks: [1, 10, 100, 1000, 10000], tickLab: ["0", "10", "100", "1000", "10000"],
    title: neutOm, titleOff: 29, xLab: cLabels([39, 28, 38, 22]), d: 4.4,
    groups: [{ x: 1, vals: fromCounts(titreLevels, c5PlwhNaiveCounts), color: RED, r: 2 }, { x: 2, vals: fromCounts(titreLevels, c5HcwNaiveCounts), color: BLUE, r: 2 },
      { x: 3, vals: fromCounts(titreLevels, c5PlwhExpCounts), color: RED, r: 2 }, { x: 4, vals: fromCounts(titreLevels, c5HcwExpCounts), color: BLUE, r: 2 }],
    stats: c5Stats, brackets: [{ a: 1, b: 2, y: 39500, text: "p = 0.21" }, { a: 3, b: 4, y: 39500, text: "p = 0.28" }] },
];

const tags = [
  ["A", "1", 9, 65], ["A", "2", 268, 65], ["A", "3", 525, 67], ["A", "4", 787, 65], ["A", "5", 1044, 65],
  ["B", "1", 9, 405], ["B", "2", 268, 400], ["B", "3", 524, 400], ["B", "4", 785, 402], ["B", "5", 1045, 402],
  ["C", "1", 8, 705], ["C", "2", 270, 704], ["C", "3", 523, 704], ["C", "4", 780, 712], ["C", "5", 1043, 712],
] as const;

const sectionTitles = [
  { text: "A. Comparison of immune responses between PLWH and HIV-negative HCWs at T0", top: 7 },
  { text: "B. Evolution of immune responses between T0 and T1 in PLWH", top: 335 },
  { text: "C. Comparison of immune responses between PLWH and HIV-negative HCWs at T1", top: 644 },
];

const legendItems = [
  { label: "SARS-CoV-2 Naive PLWH", color: GREEN, x: 398 },
  { label: "SARS-CoV-2 Experienced PLWH (T0)", color: ORANGE, x: 516 },
  { label: "SARS-CoV-2 Experienced PLWH (between T0-T1)", color: PURPLE, x: 673 },
];

export default function App() {
  return (
    <div style={{ position: "fixed", left: 0, top: 0, width: 1285, height: 916, overflow: "hidden", background: "#fff",
      fontFamily: "'Liberation Sans', Arial, sans-serif" }}>
      {sectionTitles.map((s, i) => (
        <div key={i} style={{ position: "absolute", left: 12, top: s.top, fontFamily: "Roboto", fontWeight: 700, fontSize: 19.7,
          lineHeight: "21px", color: "#111", whiteSpace: "nowrap" }}>{s.text}</div>
      ))}
      {panels.map((c, i) => <Panel key={i} c={c} />)}
      {tags.map(([l, n, x, y], i) => (
        <div key={"g" + i} style={{ position: "absolute", left: x, top: y - 3.3, fontFamily: "'Open Sans'", fontWeight: 700,
          fontSize: 19, lineHeight: "19px", color: "#000", whiteSpace: "nowrap" }}>
          {l}<span style={{ fontSize: 13, position: "relative", top: 4 }}>{n}</span>
        </div>
      ))}
      {legendItems.map((it, i) => (
        <React.Fragment key={"l" + i}>
          <div style={{ position: "absolute", left: it.x - 4.5, top: 617 - 4.5, width: 9, height: 9, borderRadius: 5, background: it.color }} />
          <div style={{ position: "absolute", left: it.x + 14, top: 612, fontSize: 7.6, lineHeight: "10px", color: "#333", whiteSpace: "nowrap" }}>{it.label}</div>
        </React.Fragment>
      ))}
    </div>
  );
}
